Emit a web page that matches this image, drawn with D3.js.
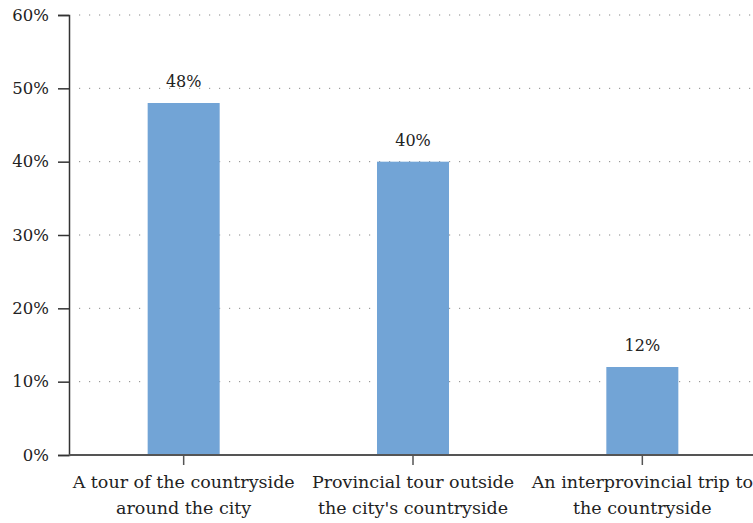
<!DOCTYPE html>
<html><head><meta charset="utf-8">
<script src="https://cdn.jsdelivr.net/npm/d3@7"></script>
<style>body{margin:0;background:#fff}svg{display:block}</style>
</head><body>
<script>
const categories = [["A tour of the countryside","around the city"],["Provincial tour outside","the city's countryside"],["An interprovincial trip to","the countryside"]];
const values = [48, 40, 12];
const yTicks = [0, 10, 20, 30, 40, 50, 60];

(function () {
const W = 753, H = 523;
const mLeft = 69, mRight = 757, mTop = 15, mBottom = 455;
const font = "'DejaVu Serif', serif";
const svg = d3.select("body").append("svg").attr("width", W).attr("height", H);

const x = d3.scaleBand().domain(d3.range(categories.length)).range([mLeft, mRight]).paddingInner(0.686).paddingOuter(0.343);
const y = d3.scaleLinear().domain([0, 60]).range([mBottom, mTop]);

// gridlines
svg.append("g").selectAll("line").data(yTicks.filter(d => d > 0)).join("line")
  .attr("x1", mLeft + 10).attr("x2", W).attr("y1", d => y(d)).attr("y2", d => y(d))
  .attr("stroke", "#888").attr("stroke-width", 1).attr("stroke-dasharray", "1.2,8.8");

// bars
svg.append("g").selectAll("rect").data(values).join("rect")
  .attr("x", (d, i) => x(i)).attr("width", x.bandwidth())
  .attr("y", d => y(d)).attr("height", d => mBottom - y(d))
  .attr("fill", "#72a4d6");

// value labels
svg.append("g").selectAll("text").data(values).join("text")
  .attr("x", (d, i) => x(i) + x.bandwidth() / 2).attr("y", d => y(d) - 16)
  .attr("text-anchor", "middle").attr("font-family", font).attr("font-size", 16).attr("fill", "#222")
  .text(d => d + "%");

// y axis
const ya = svg.append("g").attr("transform", `translate(${mLeft},0)`)
  .call(d3.axisLeft(y).tickValues(yTicks).tickFormat(d => d + "%").tickSize(11).tickPadding(9));
ya.select(".domain").attr("stroke", "#333").attr("stroke-width", 1.5);
ya.selectAll(".tick line").attr("stroke", "#333").attr("stroke-width", 1.5);
ya.selectAll("text").attr("font-family", font).attr("font-size", 16.5).attr("fill", "#222");

// x axis
const xa = svg.append("g").attr("transform", `translate(0,${mBottom})`)
  .call(d3.axisBottom(x).tickSize(10).tickFormat(""));
xa.select(".domain").attr("d", `M${mLeft},0H${W}`).attr("stroke", "#555").attr("stroke-width", 2);
xa.selectAll(".tick line").attr("stroke", "#555").attr("stroke-width", 1.5);

// category labels
const cl = svg.append("g").selectAll("text").data(categories).join("text")
  .attr("x", (d, i) => x(i) + x.bandwidth() / 2).attr("y", 488)
  .attr("text-anchor", "middle").attr("font-family", font).attr("font-size", 17.5).attr("fill", "#222");
cl.selectAll("tspan").data(d => d).join("tspan")
  .attr("x", function () { return this.parentNode.getAttribute("x"); })
  .attr("dy", (d, i) => i ? 26 : 0).text(d => d);
})();
</script>
</body></html>
